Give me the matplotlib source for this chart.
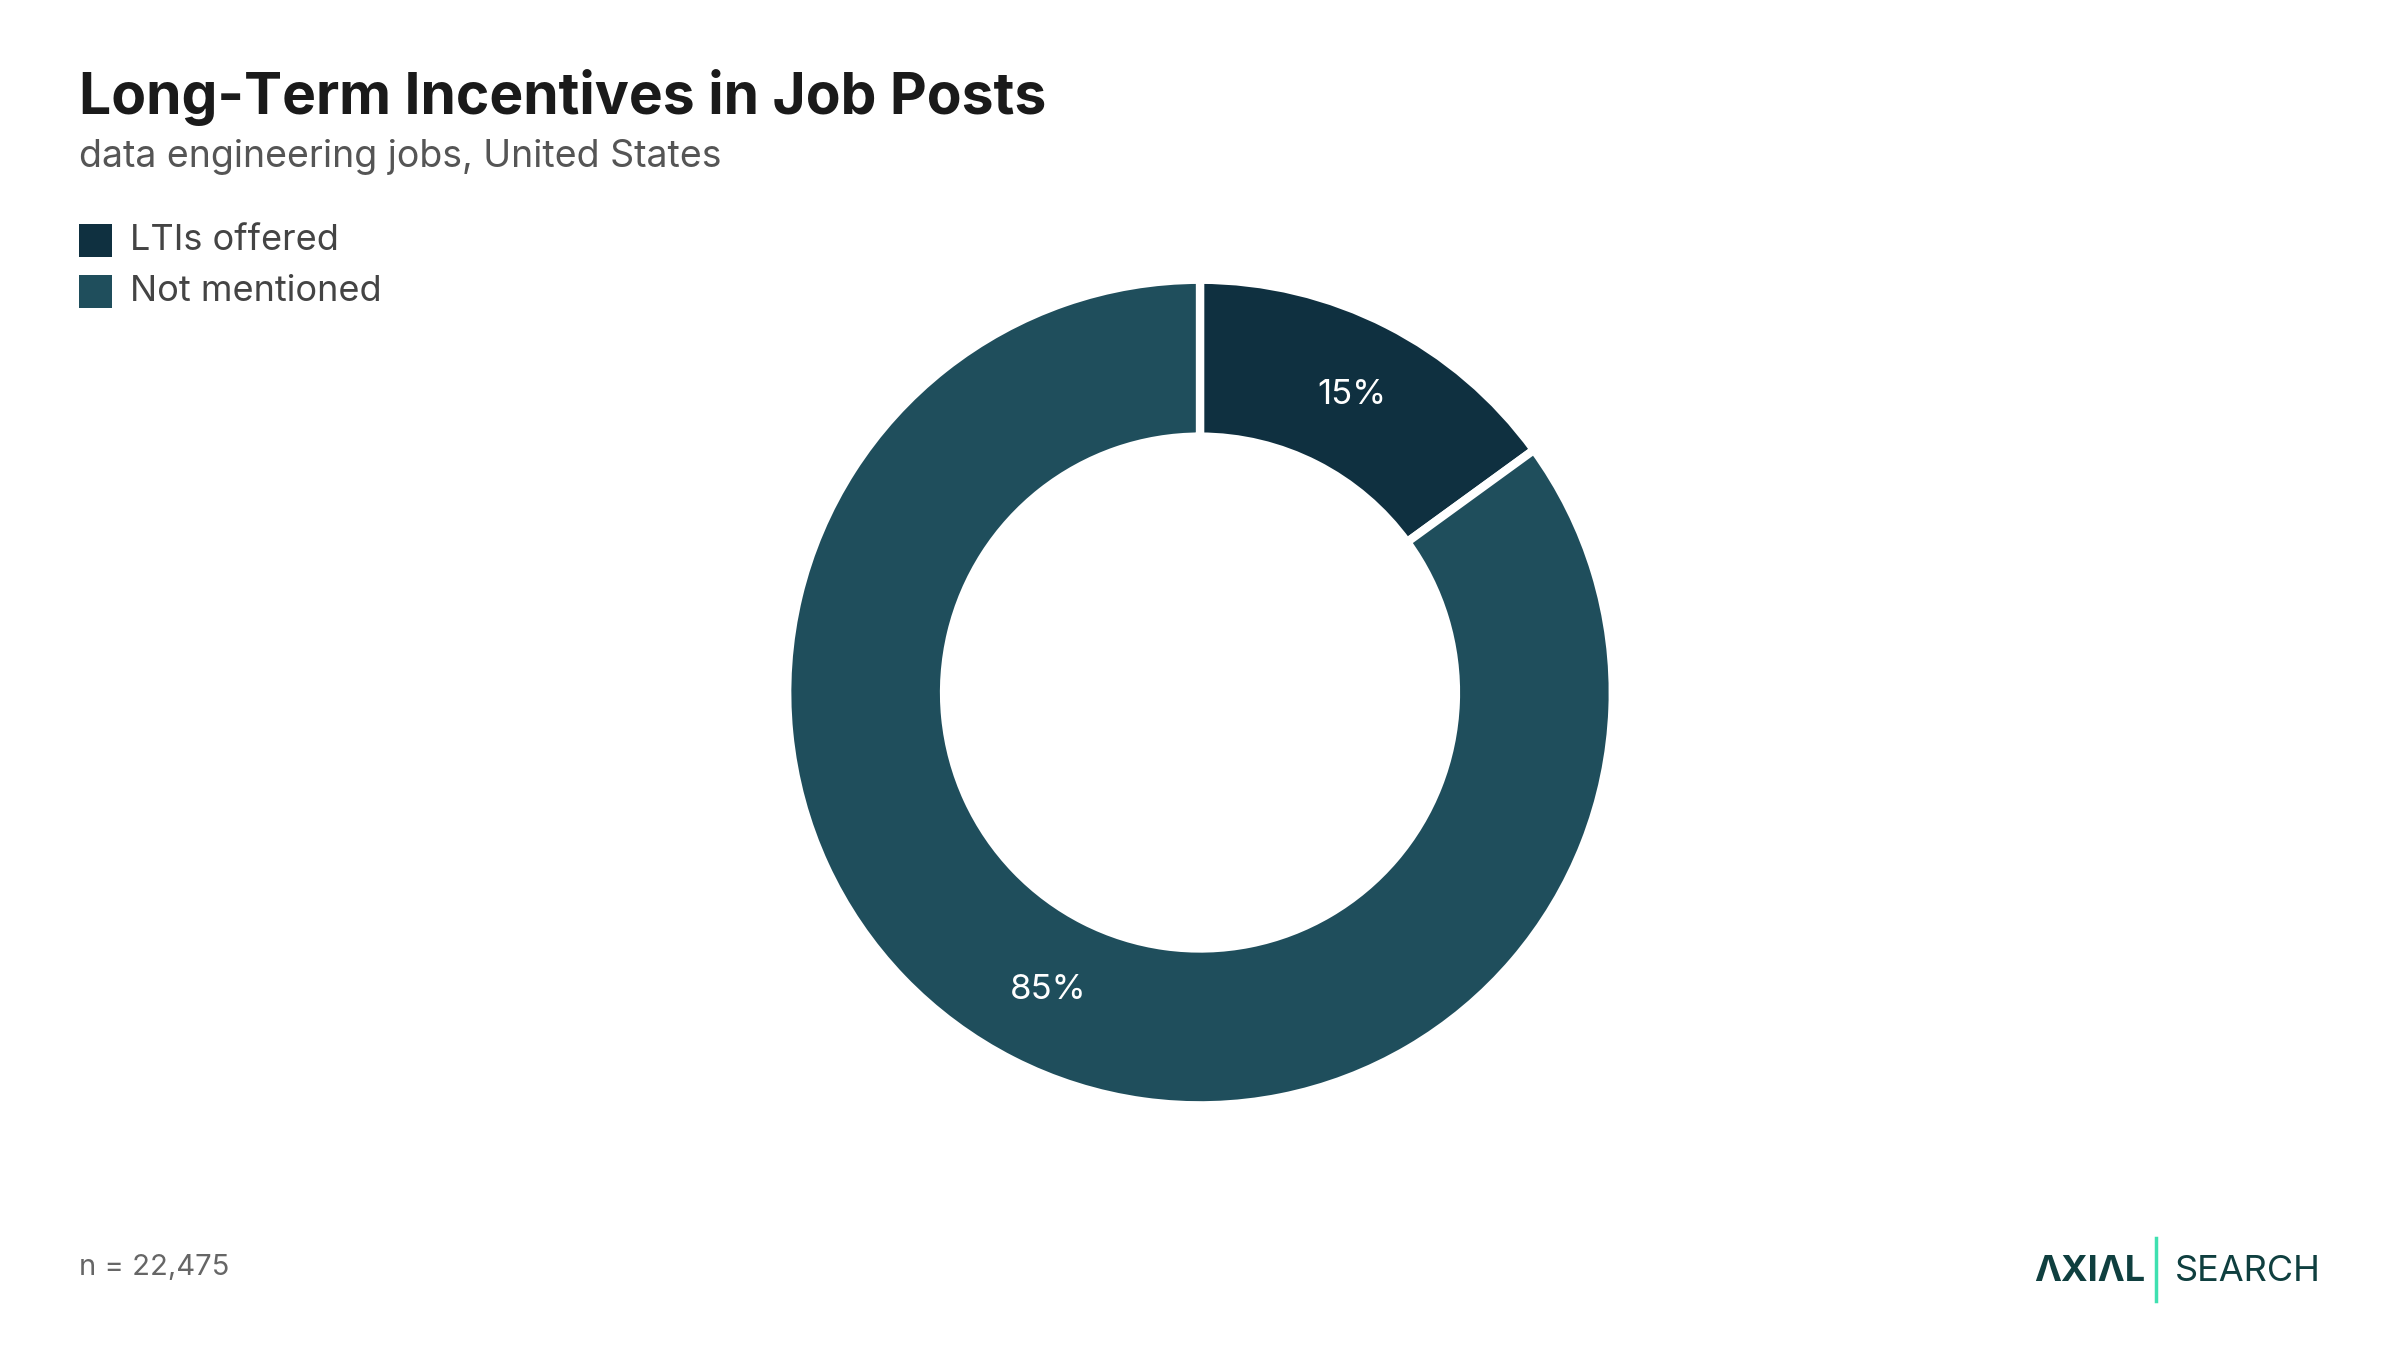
import matplotlib
from matplotlib import pyplot as plt
from matplotlib.patches import Rectangle
import numpy as np

labels = ['LTIs offered', 'Not mentioned']
shares = [15, 85]
colors = ['#0f3040', '#1f4e5c']

matplotlib.rc('font', family='Inter')
fig = plt.figure(figsize=(24, 13.5), dpi=100)

ax = fig.add_axes([0.328, 0.181, 0.344, 0.612])
wedges, _ = ax.pie(shares, colors=colors, startangle=90, counterclock=False,
                   radius=1, wedgeprops=dict(width=0.38, edgecolor='white', linewidth=6))
ax.set_xlim(-1, 1)
ax.set_ylim(-1, 1)
ax.set_aspect('equal')
start = 90
for w, s in zip(wedges, shares):
    mid = np.deg2rad(start - s * 3.6 / 2)
    start -= s * 3.6
    ax.text(0.81 * np.cos(mid), 0.81 * np.sin(mid), '%d%%' % s, color='white',
            ha='center', va='center', fontsize=25)

fig.text(0.033, 0.928, 'Long-Term Incentives in Job Posts', fontsize=41,
         fontweight='bold', color='#1a1a1a', va='center')
fig.text(0.033, 0.884, 'data engineering jobs, United States', fontsize=27,
         color='#555555', va='center')

for i, (lab, c) in enumerate(zip(labels, colors)):
    y = 0.822 - i * 0.038
    fig.patches.append(Rectangle((0.033, y - 0.012), 0.0135, 0.024, transform=fig.transFigure,
                                 facecolor=c, edgecolor='none'))
    fig.text(0.054, y, lab, fontsize=26, color='#444444', va='center')

fig.text(0.033, 0.061, 'n = 22,475', fontsize=21, color='#666666', va='center')
fig.text(0.894, 0.058, 'ΛXIΛL', fontsize=26, fontweight='bold', color='#0f3f3f',
         va='center', ha='right')
fig.add_artist(plt.Line2D([0.8985, 0.8985], [0.036, 0.083], transform=fig.transFigure,
                          color='#3fe0b0', linewidth=2.5))
fig.text(0.967, 0.058, 'SEARCH', fontsize=26, color='#0f3f3f', va='center', ha='right')

fig.savefig('out.png', dpi=100, facecolor='white')
